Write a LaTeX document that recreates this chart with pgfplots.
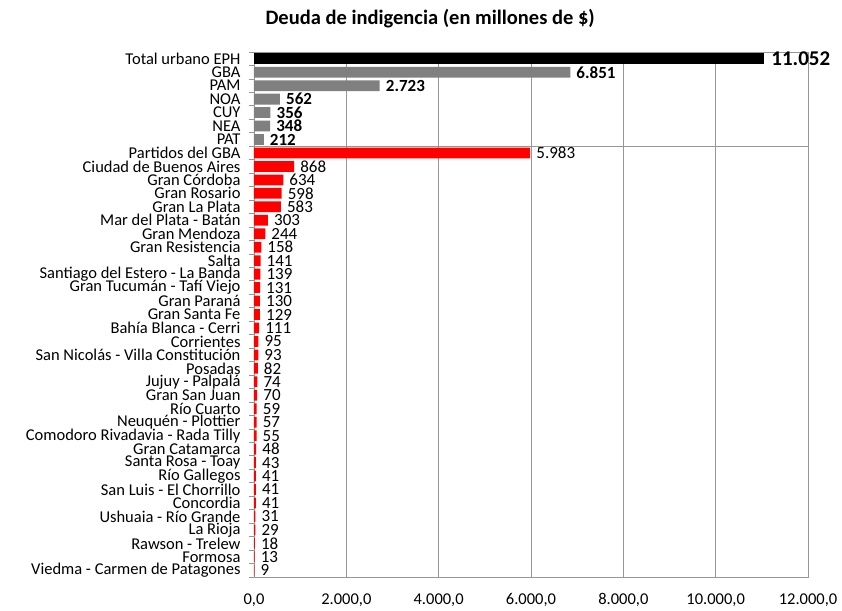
\documentclass[border=0pt]{standalone}
\usepackage{fontspec}
\setmainfont{Carlito}
\usepackage{pgfplots}
\pgfplotsset{compat=1.18}
\definecolor{barred}{RGB}{255,0,0}
\definecolor{bargray}{RGB}{128,128,128}
\definecolor{gridgray}{RGB}{150,150,150}

\begin{document}
\begin{tikzpicture}
\useasboundingbox (-254pt,-33pt) rectangle (588pt,577pt);
\begin{axis}[
    scale only axis,
    width=554pt, height=525pt,
    xbar, bar width=0.8,
    y dir=reverse,
    xmin=0, xmax=12000,
    ymin=-0.5, ymax=38.5,
    xtick={0,2000,...,12000},
    scaled x ticks=false,
    xmajorgrids=true,
    grid style={gridgray, line width=0.8pt},
    axis line style={gridgray, line width=0.8pt},
    major tick length=0pt,
    minor tick length=5pt,
    tick align=outside,
    ytick pos=left,
    xtick pos=bottom,
    tick style={gridgray, line width=0.8pt},
    minor ytick={-0.5,0.5,...,38.5},
    extra y ticks={6.5},
    extra y tick labels={},
    extra y tick style={ymajorgrids=true},
    /pgf/number format/assume math mode=true,
    /pgf/number format/1000 sep={.},
    xticklabel={\pgfmathprintnumber[fixed,fixed zerofill,precision=1,use comma,1000 sep={.}]{\tick}},
    xticklabel style={yshift=-13pt},
    yticklabel style={xshift=-10pt},
    every tick label/.append style={font=\fontsize{16.5}{16.5}\selectfont},
    ytick={0,...,38},
    yticklabels={Total urbano EPH, GBA, PAM, NOA, CUY, NEA, PAT,
        Partidos del GBA, Ciudad de Buenos Aires, Gran Córdoba, Gran Rosario,
        Gran La Plata, Mar del Plata - Batán, Gran Mendoza, Gran Resistencia,
        Salta, Santiago del Estero - La Banda, Gran Tucumán - Tafí Viejo,
        Gran Paraná, Gran Santa Fe, Bahía Blanca - Cerri, Corrientes,
        San Nicolás - Villa Constitución, Posadas, Jujuy - Palpalá,
        Gran San Juan, Río Cuarto, Neuquén - Plottier,
        Comodoro Rivadavia - Rada Tilly, Gran Catamarca, Santa Rosa - Toay,
        Río Gallegos, San Luis - El Chorrillo, Concordia, Ushuaia - Río Grande,
        La Rioja, Rawson - Trelew, Formosa, Viedma - Carmen de Patagones},
    title={\bfseries Deuda de indigencia (en millones de \$)},
    title style={at={(0.318,1)}, anchor=south, yshift=14pt, font=\fontsize{20.5}{20.5}\selectfont},
]
\addplot[fill=black, draw=none, bar shift=0pt,
    nodes near coords,
    nodes near coords style={font=\bfseries\fontsize{21}{21}\selectfont, inner sep=3pt, xshift=4pt}]
    coordinates {(11052,0)};
\addplot[fill=bargray, draw=none, bar shift=0pt,
    nodes near coords,
    nodes near coords style={font=\bfseries\fontsize{17}{17}\selectfont, inner sep=3pt, xshift=3pt}]
    coordinates {(6851,1) (2723,2) (562,3) (356,4) (348,5) (212,6)};
\addplot[fill=barred, draw=none, bar shift=0pt,
    nodes near coords,
    nodes near coords style={font=\fontsize{17}{17}\selectfont, inner sep=3pt, xshift=3pt}]
    coordinates {
    (5983,7) (868,8) (634,9) (598,10) (583,11) (303,12) (244,13) (158,14)
    (141,15) (139,16) (131,17) (130,18) (129,19) (111,20) (95,21) (93,22)
    (82,23) (74,24) (70,25) (59,26) (57,27) (55,28) (48,29) (43,30)
    (41,31) (41,32) (41,33) (31,34) (29,35) (18,36) (13,37) (9,38)};
\end{axis}
\end{tikzpicture}
\end{document}
